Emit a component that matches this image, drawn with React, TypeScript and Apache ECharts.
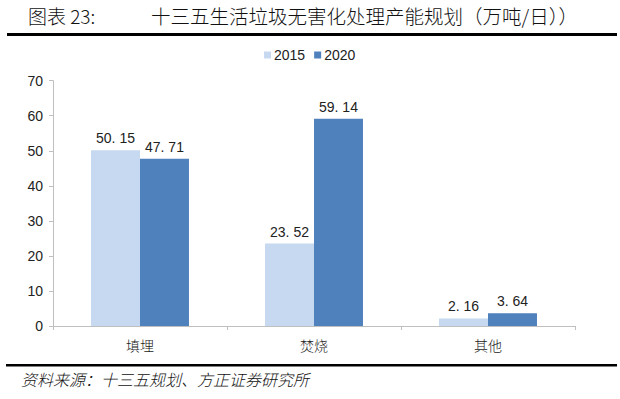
import React, { useEffect, useRef } from "react";
import * as echarts from "echarts";

const categories = ["填埋", "焚烧", "其他"];
const values2015 = [50.15, 23.52, 2.16];
const values2020 = [47.71, 59.14, 3.64];
const seriesNames = ["2015", "2020"];
const yTicks = { min: 0, max: 70, interval: 10 };

const titleLeft = "图表 23:";
const titleMain = "十三五生活垃圾无害化处理产能规划（万吨/日））";
const sourceText = "资料来源：十三五规划、方正证券研究所";

const CJK = '"Noto Sans CJK SC", "Noto Sans", sans-serif';
const LATIN = '"Liberation Sans", Arial, sans-serif';

const fmt = (v: number) => {
  const s = v.toFixed(2);
  return s.replace(".", ". ");
};

export default function App() {
  const ref = useRef<HTMLDivElement>(null);
  useEffect(() => {
    if (!ref.current) return;
    const chart = echarts.init(ref.current, null, { renderer: "svg" });
    chart.setOption({
      animation: false,
      backgroundColor: "#ffffff",
      grid: { left: 53, right: 45, top: 80.7, bottom: 73, containLabel: false },
      legend: {
        data: seriesNames,
        top: 43,
        left: 259,
        itemWidth: 7,
        itemHeight: 7,
        itemGap: 9,
        icon: "rect",
        textStyle: { fontFamily: LATIN, fontSize: 14, color: "#222", padding: [0, 0, 0, -2] },
      },
      xAxis: {
        type: "category",
        data: categories,
        axisLine: { lineStyle: { color: "#bfbfbf", width: 1 } },
        axisTick: { show: true, length: 4, lineStyle: { color: "#bfbfbf" } },
        axisLabel: { fontFamily: CJK, fontSize: 14, fontWeight: 300, color: "#222", margin: 12 },
      },
      yAxis: {
        type: "value",
        min: yTicks.min,
        max: yTicks.max,
        interval: yTicks.interval,
        axisLine: { show: true, lineStyle: { color: "#bfbfbf", width: 1 } },
        axisTick: { show: true, length: 4, lineStyle: { color: "#bfbfbf" } },
        splitLine: { show: false },
        axisLabel: { fontFamily: LATIN, fontSize: 14, color: "#222", margin: 10 },
      },
      series: [
        {
          name: seriesNames[0],
          type: "bar",
          data: values2015,
          barGap: "0%",
          barCategoryGap: "43.7%",
          itemStyle: { color: "#c6d9f0" },
          label: {
            show: true,
            position: "top",
            distance: 5,
            fontFamily: LATIN,
            fontSize: 14,
            color: "#222",
            formatter: (p: any) => fmt(p.value),
          },
        },
        {
          name: seriesNames[1],
          type: "bar",
          data: values2020,
          barGap: "0%",
          barCategoryGap: "43.7%",
          itemStyle: { color: "#4f81bd" },
          label: {
            show: true,
            position: "top",
            distance: 5,
            fontFamily: LATIN,
            fontSize: 14,
            color: "#222",
            formatter: (p: any) => fmt(p.value),
          },
        },
      ],
      graphic: [
        {
          type: "text",
          left: 28,
          top: 6,
          style: { text: titleLeft, font: `300 19px ${CJK}`, fill: "#111" },
        },
        {
          type: "text",
          left: 151,
          top: 6,
          style: { text: titleMain, font: `300 19.5px ${CJK}`, fill: "#111" },
        },
        {
          type: "rect",
          shape: { x: 7, y: 33, width: 610, height: 3 },
          style: { fill: "#000" },
        },
        {
          type: "rect",
          shape: { x: 6, y: 364, width: 611, height: 2.5 },
          style: { fill: "#000" },
        },
        {
          type: "text",
          left: 21,
          top: 371,
          style: { text: sourceText, font: `italic 300 16px ${CJK}`, fill: "#111" },
        },
      ],
    });
    return () => chart.dispose();
  }, []);
  return <div ref={ref} style={{ width: 620, height: 399, position: "absolute", left: 0, top: 0 }} />;
}
